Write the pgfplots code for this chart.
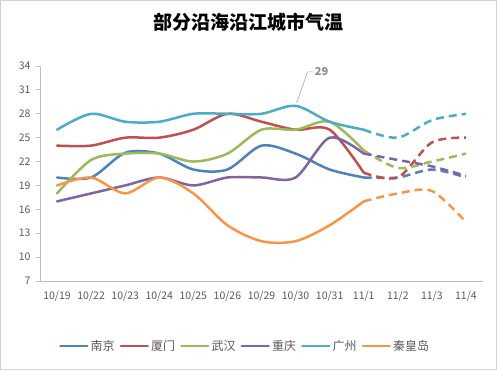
\documentclass[border=0pt]{standalone}
\usepackage{pgfplots}
\pgfplotsset{compat=1.18}
\usepackage{fontspec}
\setmainfont{Noto Sans CJK SC}
\newfontfamily\cjk{Noto Sans CJK SC}
\definecolor{cNJ}{HTML}{4F81BD}
\definecolor{cXM}{HTML}{C0504D}
\definecolor{cWH}{HTML}{9BBB59}
\definecolor{cCQ}{HTML}{8064A2}
\definecolor{cGZ}{HTML}{4BACC6}
\definecolor{cQH}{HTML}{F79646}
\definecolor{txt}{HTML}{595959}
\definecolor{axl}{HTML}{BFBFBF}
\begin{document}
\begin{tikzpicture}[x=1pt,y=1pt]
\path[use as bounding box] (0,0) rectangle (497,370);
\draw[gray!35, line width=1pt] (0.5,0.5) rectangle (496.5,369.5);
\node[font=\cjk\bfseries\fontsize{19}{22}\selectfont, text=black] at (248.5,348) {部分沿海沿江城市气温};
\begin{axis}[
  at={(40pt,89pt)}, anchor=south west,
  scale only axis, width=443pt, height=215pt,
  xmin=-0.5, xmax=12.5, ymin=7, ymax=34,
  axis x line=bottom, axis y line=left,
  axis line style={axl, line width=0.8pt, -},
  xtick={0,...,12},
  xticklabels={10/19,10/22,10/23,10/24,10/25,10/26,10/29,10/30,10/31,11/1,11/2,11/3,11/4},
  major x tick style={draw=none},
  ytick={7,10,...,34},
  y tick style={axl, line width=0.8pt},
  major tick length=4pt,
  tick align=outside,
  /pgf/number format/assume math mode=true,
  tick label style={font=\fontsize{10.5}{12}\selectfont, text=txt},
  xticklabel style={yshift=-3pt},
  yticklabel style={xshift=-2pt},
  legend style={at={(0.463,-0.302)}, anchor=center, draw=none, fill=none,
    legend columns=6, font=\cjk\fontsize{12}{14}\selectfont, text=txt,
    /tikz/every even column/.append style={column sep=3pt},
    inner sep=0pt},
  legend image code/.code={\draw[#1, line width=2.5pt, line cap=round, solid] (0pt,0pt) -- (27pt,0pt);},
  every axis plot/.append style={line width=2.5pt, smooth, tension=0.5, no markers, line cap=round, line join=round},
  clip=false,
]
% solid parts (10/19 .. 11/1)
\addplot[cNJ] coordinates {(0,20) (1,20) (2,23.1) (3,23) (4,21) (5,21) (6,24) (7,23) (8,21) (9,20)};
\addplot[cXM] coordinates {(0,24) (1,24) (2,25) (3,25) (4,26) (5,28) (6,27) (7,26) (8,26) (9,20.6)};
\addplot[cWH] coordinates {(0,18) (1,22.2) (2,23) (3,23) (4,22) (5,23) (6,26) (7,26) (8,27) (9,23.4)};
\addplot[cCQ] coordinates {(0,17) (1,18) (2,19) (3,20) (4,19) (5,20) (6,20) (7,20) (8,25) (9,23)};
\addplot[cGZ] coordinates {(0,26) (1,28) (2,27) (3,27) (4,28) (5,28) (6,28) (7,29) (8,27) (9,26)};
\addplot[cQH] coordinates {(0,19) (1,20) (2,18) (3,20) (4,18) (5,14) (6,12) (7,12) (8,14) (9,17)};
\legend{南京,厦门,武汉,重庆,广州,秦皇岛}
% dashed parts (11/1 .. 11/4)
\addplot[cNJ, dash pattern=on 8pt off 5pt, line cap=butt, forget plot] coordinates {(9,20) (10,20) (11,21) (12,20)};
\addplot[cXM, dash pattern=on 8pt off 5pt, line cap=butt, forget plot] coordinates {(9,20.6) (10,20) (11,24.4) (12,25)};
\addplot[cWH, dash pattern=on 8pt off 5pt, line cap=butt, forget plot] coordinates {(9,23.4) (10,21.2) (11,22) (12,23)};
\addplot[cCQ, dash pattern=on 8pt off 5pt, line cap=butt, forget plot] coordinates {(9,23) (10,22.2) (11,21.4) (12,20.2)};
\addplot[cGZ, dash pattern=on 8pt off 5pt, line cap=butt, forget plot] coordinates {(9,26) (10,25) (11,27.2) (12,28)};
\addplot[cQH, dash pattern=on 8pt off 5pt, line cap=butt, forget plot] coordinates {(9,17) (10,18) (11,18.3) (12,14.4)};
% data label
\draw[gray!70, line width=0.6pt] (axis cs:7,29) ++(1pt,3pt) -- ++(11pt,31pt) -- ++(5pt,0pt)
  node[right, inner sep=2pt, font=\bfseries\fontsize{11}{13}\selectfont, text=gray!90] {29};
\end{axis}
\end{tikzpicture}
\end{document}
